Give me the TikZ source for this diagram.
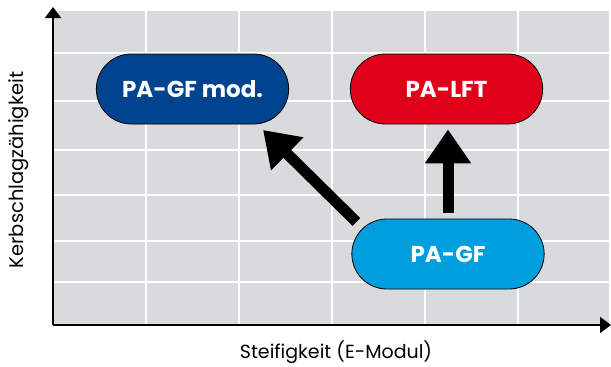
\documentclass[tikz,border=0pt]{standalone}
\usepackage{fontspec}
\setmainfont{Poppins}
\usetikzlibrary{shapes.misc,arrows.meta}
\definecolor{gridgray}{HTML}{D9DADC}
\definecolor{darkblue}{HTML}{00448F}
\definecolor{lftred}{HTML}{E1001A}
\definecolor{lightblue}{HTML}{009EDD}
\tikzset{
  pill/.style={rounded rectangle, draw=black, line width=0.8pt, minimum width=199pt,
    minimum height=70pt, text=white, font=\fontsize{23}{26}\selectfont\bfseries},
  bigarrow/.style={line width=11pt, -{Triangle[length=34pt,width=44pt]}},
  axisline/.style={line width=1.6pt, -{Triangle[length=11pt,width=16pt]}}
}
\begin{document}
\begin{tikzpicture}[x=1pt,y=-1pt]
\useasboundingbox (0,0) rectangle (611,367);
% 定义坐标轴的点
\coordinate (O) at (53,325);
\coordinate (X) at (611,325);
\coordinate (Y) at (53,7);

% 背景网格
\fill[gridgray] (53,11) rectangle (609,325);
\foreach \x in {146,239,332,425,518}
  \draw[white, line width=1.3pt] (\x,11) -- (\x,325);
\foreach \y in {53,101,150,195,241,282}
  \draw[white, line width=1.3pt] (53,\y) -- (609,\y);

% 坐标轴
\draw[axisline] (O) -- (X);
\draw[axisline] (O) -- (Y);

% 材料
\node[pill, fill=darkblue] (mod) at (192.5,89) {PA-GF mod.};
\node[pill, fill=lftred] (lft) at (446.5,89) {PA-LFT};
\node[pill, fill=lightblue] (gf) at (448,254) {PA-GF};

% 箭头
\draw[bigarrow] ([yshift=6pt]gf.north) -- ([yshift=-5pt]gf.north |- lft.south);
\draw[bigarrow] ([xshift=5pt,yshift=32pt]gf.west) -- ([xshift=-26pt,yshift=-41pt]mod.east);

% 轴标签
\node[rotate=90, font=\fontsize{19.5}{22}\selectfont] (ylab) at (19,170) {Kerbschlagzähigkeit};
\node[font=\fontsize{19}{22}\selectfont] (xlab) at (336,352) {Steifigkeit (E-Modul)};
\end{tikzpicture}
\end{document}
